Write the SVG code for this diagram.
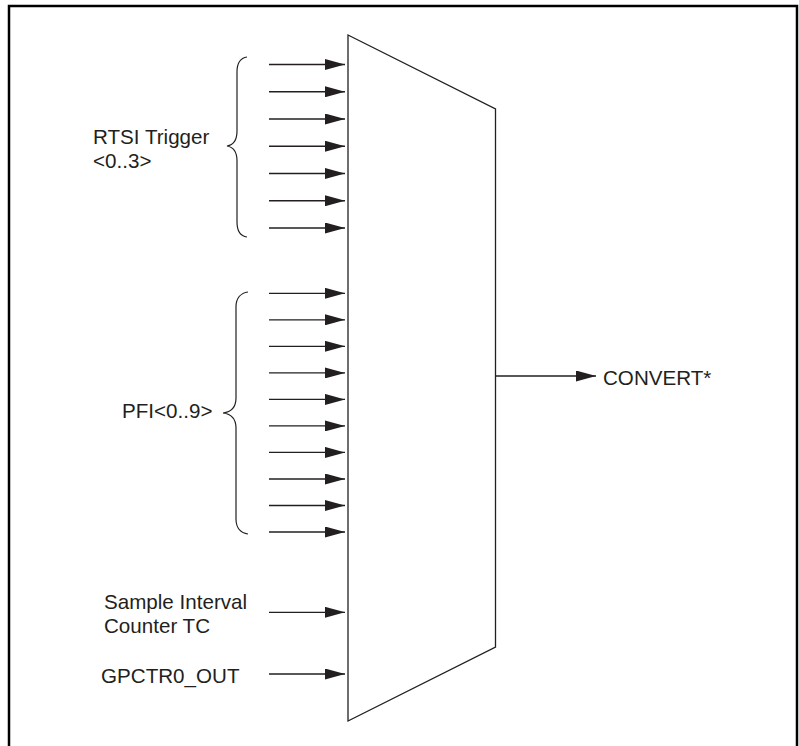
<svg xmlns="http://www.w3.org/2000/svg" width="799" height="746" viewBox="0 0 799 746">
<style>
.ln{stroke:#231f20;stroke-width:1.3;fill:none}
.tx{font-family:"Liberation Sans",Arial,sans-serif;font-size:20.6px;fill:#231f20}
.br{stroke:#231f20;stroke-width:1.2;fill:none}
</style>
<defs>
<marker id="ah" markerUnits="userSpaceOnUse" markerWidth="20" markerHeight="11" refX="20" refY="5.5" orient="auto">
<path d="M0,0 L20,5.5 L0,11 z" fill="#231f20"/>
</marker>
</defs>
<rect width="799" height="746" fill="#fff"/>
<path d="M9,747 V6 H797 V747" fill="none" stroke="#000" stroke-width="2.5"/>
<g id="mux">
<path class="ln" d="M348,35 L495.5,109 L495.5,647 L348,721 Z"/>
</g>
<g id="rtsi">
<path class="br" d="M247,57 C240,58 237,63 237,72 L237,131 C237,140 233,145 227,146 C233,147 237,152 237,161 L237,222 C237,231 240,236 247,237"/>
<text class="tx" x="93" y="144">RTSI Trigger</text>
<text class="tx" x="93" y="168">&lt;0..3&gt;</text>
</g>
<g id="pfi">
<path class="br" d="M248,292 C241,293 236,298 236,307 L236,398 C236,407 231,412 223,413 C231,414 236,419 236,428 L236,519 C236,528 241,533 248,534"/>
<text class="tx" x="122" y="418">PFI&lt;0..9&gt;</text>
</g>
<g id="sample">
<text class="tx" x="104" y="609">Sample Interval</text>
<text class="tx" x="104" y="633">Counter TC</text>
</g>
<g id="gpctr">
<text class="tx" x="101" y="683">GPCTR0_OUT</text>
</g>
<g id="convert">
<text class="tx" x="603" y="385">CONVERT*</text>
</g>
<g id="connectors">
<line class="ln" x1="269" y1="64.5" x2="345" y2="64.5" marker-end="url(#ah)"/>
<line class="ln" x1="269" y1="91.75" x2="345" y2="91.75" marker-end="url(#ah)"/>
<line class="ln" x1="269" y1="119" x2="345" y2="119" marker-end="url(#ah)"/>
<line class="ln" x1="269" y1="146.25" x2="345" y2="146.25" marker-end="url(#ah)"/>
<line class="ln" x1="269" y1="173.5" x2="345" y2="173.5" marker-end="url(#ah)"/>
<line class="ln" x1="269" y1="200.75" x2="345" y2="200.75" marker-end="url(#ah)"/>
<line class="ln" x1="269" y1="228" x2="345" y2="228" marker-end="url(#ah)"/>
<line class="ln" x1="269" y1="293.3" x2="345" y2="293.3" marker-end="url(#ah)"/>
<line class="ln" x1="269" y1="319.8" x2="345" y2="319.8" marker-end="url(#ah)"/>
<line class="ln" x1="269" y1="346.3" x2="345" y2="346.3" marker-end="url(#ah)"/>
<line class="ln" x1="269" y1="372.9" x2="345" y2="372.9" marker-end="url(#ah)"/>
<line class="ln" x1="269" y1="399.4" x2="345" y2="399.4" marker-end="url(#ah)"/>
<line class="ln" x1="269" y1="425.9" x2="345" y2="425.9" marker-end="url(#ah)"/>
<line class="ln" x1="269" y1="452.4" x2="345" y2="452.4" marker-end="url(#ah)"/>
<line class="ln" x1="269" y1="479" x2="345" y2="479" marker-end="url(#ah)"/>
<line class="ln" x1="269" y1="505.5" x2="345" y2="505.5" marker-end="url(#ah)"/>
<line class="ln" x1="269" y1="532" x2="345" y2="532" marker-end="url(#ah)"/>
<line class="ln" x1="269" y1="612.3" x2="345" y2="612.3" marker-end="url(#ah)"/>
<line class="ln" x1="269" y1="674" x2="345" y2="674" marker-end="url(#ah)"/>
<line class="ln" x1="496" y1="376" x2="596" y2="376" marker-end="url(#ah)"/>
</g>
</svg>
